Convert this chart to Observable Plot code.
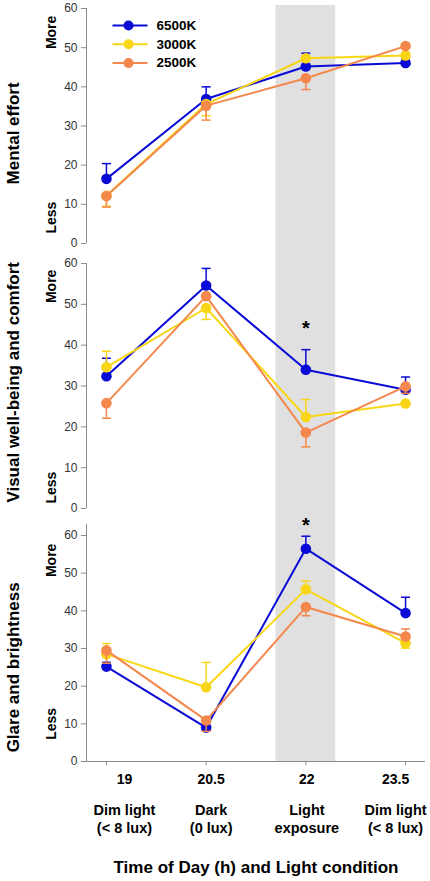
<!DOCTYPE html>
<html>
<head>
<meta charset="utf-8">
<script src="https://cdn.jsdelivr.net/npm/d3@7"></script>
<script src="https://cdn.jsdelivr.net/npm/@observablehq/plot@0.6"></script>
<style>
  html, body { margin: 0; padding: 0; background: #fff; }
  #wrap { position: relative; width: 430px; height: 881px; overflow: hidden; font-family: Arial, "Liberation Sans", sans-serif; }
</style>
</head>
<body>
<div id="wrap"></div>
<script>
// ---- data ----
const times = [19, 20.5, 22, 23.5];
const tickLabels = ["19", "20.5", "22", "23.5"];
const conditions = ["Dim light\n(< 8 lux)", "Dark\n(0 lux)", "Light\nexposure", "Dim light\n(< 8 lux)"];
const seriesNames = ["6500K", "3000K", "2500K"];
const seriesColors = ["#0a0ad6", "#f8d615", "#f4874b"];
const panelTitles = ["Mental effort", "Visual well-being and comfort", "Glare and brightness"];
const yTicks = [0, 10, 20, 30, 40, 50, 60];
const lightBand = [21.55, 22.45];

// Mental effort
const mental6500 = [16.5, 36.9, 45.2, 46.1];
const mental6500Err = [20.4, 40.0, 48.6, 47.2];
const mental3000 = [12.2, 35.6, 47.3, 48.0];
const mental3000Err = [9.5, 32.6, null, 48.8];
const mental2500 = [12.1, 35.2, 42.2, 50.4];
const mental2500Err = [9.3, 31.5, 39.3, null];

// Visual well-being and comfort
const visual6500 = [32.4, 54.6, 34.0, 29.1];
const visual6500Err = [36.8, 58.8, 38.9, 32.2];
const visual3000 = [34.6, 49.1, 22.4, 25.7];
const visual3000Err = [38.5, 46.3, 26.7, null];
const visual2500 = [25.8, 52.0, 18.6, 29.9];
const visual2500Err = [22.1, null, 15.1, 28.2];

// Glare and brightness
const glare6500 = [25.2, 9.0, 56.5, 39.4];
const glare6500Err = [26.3, null, 59.8, 43.6];
const glare3000 = [28.5, 19.7, 45.7, 31.4];
const glare3000Err = [31.3, 26.3, 47.9, 30.1];
const glare2500 = [29.5, 10.9, 41.0, 33.2];
const glare2500Err = [26.1, 8.0, 38.7, 35.2];

// significance markers (time, level)
const sigVisual = [{time: 22, level: 45.3}];
const sigGlare = [{time: 22, level: 64.0}];

function rows(valueLists, errLists) {
  const out = [];
  valueLists.forEach((vals, s) => {
    vals.forEach((v, i) => {
      out.push({series: seriesNames[s], time: times[i], value: v, err: errLists[s][i]});
    });
  });
  return out;
}

const panels = [
  {
    data: rows([mental6500, mental3000, mental2500], [mental6500Err, mental3000Err, mental2500Err]),
    top: 5, height: 258, mt: 0, mb: 0, domain: [-5.11, 60.77], axisTop: 60,
    titleY: 28.1, moreY: 53.9, lessY: 6.6, sig: [], xaxis: false, legend: true
  },
  {
    data: rows([visual6500, visual3000, visual2500], [visual6500Err, visual3000Err, visual2500Err]),
    top: 263, height: 261, mt: 0, mb: 0, domain: [-3.92, 60], axisTop: 60,
    titleY: 30.9, moreY: 54.4, lessY: 5.1, sig: sigVisual, xaxis: false, legend: false
  },
  {
    data: rows([glare6500, glare3000, glare2500], [glare6500Err, glare3000Err, glare2500Err]),
    top: 524, height: 357, mt: 0, mb: 120, domain: [0, 62.92], axisTop: 62.92,
    titleY: 25, moreY: 53.4, lessY: 10, sig: sigGlare, xaxis: true, legend: false
  }
];

const capSymbol = {draw(ctx) { ctx.moveTo(-4.5, 0); ctx.lineTo(4.5, 0); }};
const legendLine = {draw(ctx) { ctx.moveTo(-17.5, 0); ctx.lineTo(17.5, 0); }};
const font = "Arial, 'Liberation Sans', sans-serif";
// horizontal nudges of the category label blocks under the axis (as laid out in the original figure)
const labelNudge = [18, 5, 1, -10];

const wrap = document.getElementById("wrap");

panels.forEach((p, pi) => {
  const errRows = p.data.filter(d => d.err != null);
  const marks = [
    Plot.rect([lightBand], {x1: d => d[0], x2: d => d[1], fill: "#e0e0e0"}),
    Plot.ruleX([18.7], {y1: 0, y2: p.axisTop, stroke: "#8a8a8a", strokeWidth: 1}),
    Plot.axisY({ticks: yTicks, tickSize: 5, tickPadding: 4, fontSize: 12, color: "#333", stroke: "#8a8a8a", anchor: "left", label: null}),
    Plot.text([panelTitles[pi]], {frameAnchor: "left", textAnchor: "middle", y: () => p.titleY, rotate: -90, dx: -73, fontSize: 17, fontWeight: "bold", fill: "#000"}),
    Plot.text(["More"], {frameAnchor: "left", textAnchor: "middle", y: () => p.moreY, rotate: -90, dx: -35, fontSize: 14, fontWeight: "bold", fill: "#000"}),
    Plot.text(["Less"], {frameAnchor: "left", textAnchor: "middle", y: () => p.lessY, rotate: -90, dx: -35, fontSize: 14, fontWeight: "bold", fill: "#000"})
  ];
  seriesNames.forEach((s, si) => {
    const sd = p.data.filter(d => d.series === s);
    const se = errRows.filter(d => d.series === s);
    const c = seriesColors[si];
    marks.push(
      Plot.ruleX(se, {x: "time", y1: "value", y2: "err", stroke: c, strokeWidth: 1.5}),
      Plot.dot(se, {x: "time", y: "err", symbol: capSymbol, stroke: c, strokeWidth: 1.5, fill: "none", r: 4}),
      Plot.line(sd, {x: "time", y: "value", stroke: c, strokeWidth: 2}),
      Plot.dot(sd, {x: "time", y: "value", fill: c, r: 5.3})
    );
  });
  marks.push(Plot.text(p.sig, {x: "time", y: "level", text: () => "*", fontSize: 20, fontWeight: "bold", fill: "#000", dy: 5}));
  if (p.legend) {
    seriesNames.forEach((s, i) => {
      const dy = 20 + i * 18.8;
      marks.push(
        Plot.dot([s], {frameAnchor: "top-left", dx: 43.5, dy, symbol: legendLine, stroke: seriesColors[i], strokeWidth: 2, fill: "none", r: 4}),
        Plot.dot([s], {frameAnchor: "top-left", dx: 42, dy, fill: seriesColors[i], r: 5}),
        Plot.text([s], {frameAnchor: "top-left", textAnchor: "start", lineAnchor: "middle", dx: 70, dy, fontSize: 13.5, fontWeight: "bold", fill: "#000"})
      );
    });
  }
  if (p.xaxis) {
    marks.push(
      Plot.ruleY([0], {stroke: "#8a8a8a", strokeWidth: 1}),
      Plot.axisX({ticks: times, tickFormat: () => "", tickSize: 4, stroke: "#8a8a8a", label: null})
    );
    times.forEach((t, i) => {
      marks.push(
        Plot.text([tickLabels[i]], {x: () => t, frameAnchor: "bottom", lineAnchor: "top", dx: labelNudge[i], dy: 13, fontSize: 14, fontWeight: "bold", fill: "#000"}),
        Plot.text([conditions[i]], {x: () => t, frameAnchor: "bottom", lineAnchor: "top", dx: labelNudge[i], dy: 41, fontSize: 14.5, fontWeight: "bold", lineHeight: 1.25, fill: "#000"})
      );
    });
    marks.push(
      Plot.text(["Time of Day (h) and Light condition"], {frameAnchor: "bottom", dy: 111, fontSize: 17, fontWeight: "bold", fill: "#000"})
    );
  }
  const chart = Plot.plot({
    width: 430, height: p.height,
    marginLeft: 86, marginRight: 5, marginTop: p.mt, marginBottom: p.mb,
    x: {domain: [18.7, 23.8], axis: null},
    y: {domain: p.domain, axis: null},
    style: {overflow: "visible", fontFamily: font, background: "transparent"},
    marks
  });
  chart.style.position = "absolute";
  chart.style.left = "0px";
  chart.style.top = p.top + "px";
  wrap.appendChild(chart);
});
</script>
</body>
</html>
